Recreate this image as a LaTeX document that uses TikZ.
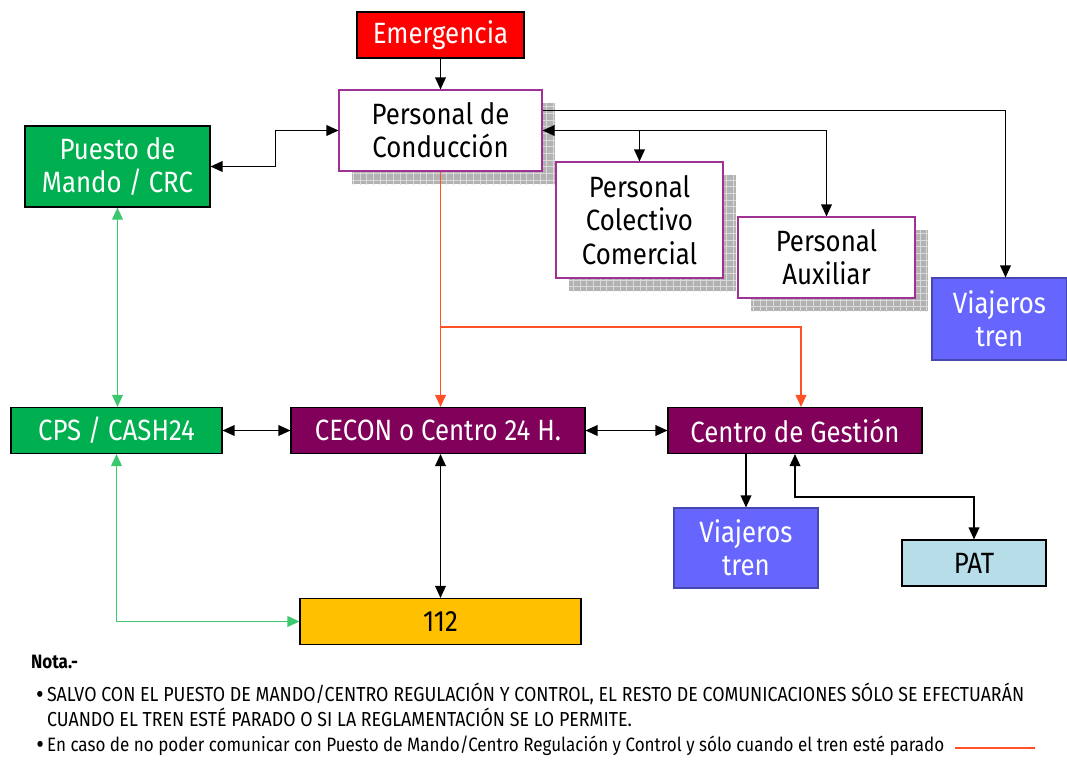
\documentclass[tikz,border=0pt]{standalone}
\usepackage{fontspec}
\setmainfont[FakeStretch=0.88]{Fira Sans}
\usepackage{tikz}
\usetikzlibrary{arrows.meta,shadows,patterns,calc}

\definecolor{rojo}{RGB}{255,0,0}
\definecolor{verde}{RGB}{0,176,80}
\definecolor{verdeclaro}{RGB}{60,200,110}
\definecolor{morado}{RGB}{128,0,90}
\definecolor{borde}{RGB}{160,50,150}
\definecolor{azul}{RGB}{102,102,255}
\definecolor{celeste}{RGB}{183,222,232}
\definecolor{amarillo}{RGB}{255,192,0}
\definecolor{naranja}{RGB}{255,80,40}

\pgfdeclarepatternformonly{cuadricula}{\pgfqpoint{-0.5pt}{-0.5pt}}{\pgfqpoint{5.5pt}{5.5pt}}{\pgfqpoint{5pt}{5pt}}{%
  \pgfsetlinewidth{0.6pt}
  \pgfpathmoveto{\pgfqpoint{0pt}{0pt}}\pgfpathlineto{\pgfqpoint{5pt}{0pt}}
  \pgfpathmoveto{\pgfqpoint{0pt}{0pt}}\pgfpathlineto{\pgfqpoint{0pt}{5pt}}
  \pgfusepath{stroke}}

\newcommand{\letracaja}{\fontsize{22}{25}\selectfont}
\newcommand{\letranota}{\fontsize{14.5}{18.75}\selectfont}
\newcommand{\punto}{\llap{\raisebox{-1.6pt}{\fontsize{20}{18}\selectfont\textbullet}\,}}

\begin{document}
\begin{tikzpicture}[x=0.75pt, y=-0.75pt, line width=1pt,
    >={Triangle[length=9pt,width=8pt]},
    caja/.style={draw=black, line width=0.8pt, minimum height=34.5pt, inner sep=0pt,
        align=center, font=\letracaja},
    sombra/.style={draw=borde, fill=white,
        general shadow={fill=gray!60, shadow xshift=9.75pt, shadow yshift=-9.75pt},
        general shadow={pattern=cuadricula, pattern color=gray!30, shadow xshift=9.75pt, shadow yshift=-9.75pt}},
    color1/.style={fill=#1, text=white},
    lineaverde/.style={verdeclaro, line width=1.3pt},
    lineanaranja/.style={naranja, line width=1.3pt}]
    \useasboundingbox (0,0) rectangle (1067,760);

    \node[caja, color1=rojo, minimum width=125.25pt] (emerg) at (440.5,35) {Emergencia};
    \node[caja, sombra, minimum width=152.25pt, minimum height=60.75pt] (cond) at (440.5,130.5) {Personal de\\Conducción};
    \node[caja, color1=verde, minimum width=138.75pt, minimum height=60.75pt] (puesto) at (117.5,166.5) {Puesto de\\Mando / CRC};
    \node[caja, sombra, minimum width=125.25pt, minimum height=87pt] (colect) at (639.5,220) {Personal\\Colectivo\\Comercial};
    \node[caja, sombra, minimum width=132.75pt, minimum height=60.75pt] (auxil) at (826.5,257.5) {Personal\\Auxiliar};
    \node[caja, color1=azul, draw=azul!70!black, minimum width=101.25pt, minimum height=61.5pt] (viaj1) at (999.5,319) {Viajeros\\tren};

    \node[caja, color1=verde, minimum width=158.25pt] (cps) at (116.5,430.5) {CPS / CASH24};
    \node[caja, color1=morado, minimum width=220.5pt] (cecon) at (438,430.5) {CECON o Centro 24 H.};
    \node[caja, color1=morado, minimum width=190.5pt] (gestion) at (795,430.5) {Centro de Gestión};
    \node[caja, color1=azul, draw=azul!70!black, minimum width=108pt, minimum height=60pt] (viaj2) at (746,548) {Viajeros\\tren};
    \node[caja, fill=celeste, minimum width=108pt] (pat) at (974,563) {PAT};
    \node[caja, fill=amarillo, minimum width=210.75pt] (n112) at (440.5,621.5) {112};

    \draw[->] (emerg) -- (cond);
    \draw[<->] (puesto.east) -- ++(65,0) |- (cond.west);
    \draw[->] ($(cond.east)+(0,-20)$) -| ($(viaj1.north)+(6,0)$);
    \draw[<->] (cond.east) -| (auxil.north);
    \draw[->] (colect.north |- cond.east) -- (colect.north);

    \draw[lineanaranja, ->] (cond.south) -- (cond.south |- cecon.north);
    \coordinate (rama) at (440.5,327);
    \draw[lineanaranja, ->] (rama) -| ($(gestion.north)+(6,0)$);

    \draw[lineaverde, <->] (puesto.south) -- (puesto.south |- cps.north);
    \draw[lineaverde, <->] (cps.south) |- (n112.west);

    \draw[<->] (cps) -- (cecon);
    \draw[<->] (cecon) -- (gestion);
    \draw[<->] (n112.north) -- (n112.north |- cecon.south);
    \draw[->] (gestion.south -| viaj2.north) -- (viaj2.north);
    \draw[<->] (gestion.south) -- ++(0,43) -| (pat.north);

    \node[anchor=west, font=\letranota\bfseries] (nota) at (26,662) {Nota.-};
    \node[anchor=west, align=left, font=\fontsize{15.2}{18.75}\selectfont] (nota1) at (42,704.5)
        {\punto SALVO CON EL PUESTO DE MANDO/CENTRO REGULACIÓN Y CONTROL, EL RESTO DE COMUNICACIONES SÓLO SE EFECTUARÁN\\
         CUANDO EL TREN ESTÉ PARADO O SI LA REGLAMENTACIÓN SE LO PERMITE.};
    \node[anchor=west, font=\letranota] (nota2) at (42,746)
        {\punto En caso de no poder comunicar con Puesto de Mando/Centro Regulación y Control y sólo cuando el tren esté parado};
    \draw[lineanaranja] ($(nota2.east)+(6,2)$) -- ++(80,0);
\end{tikzpicture}
\end{document}
